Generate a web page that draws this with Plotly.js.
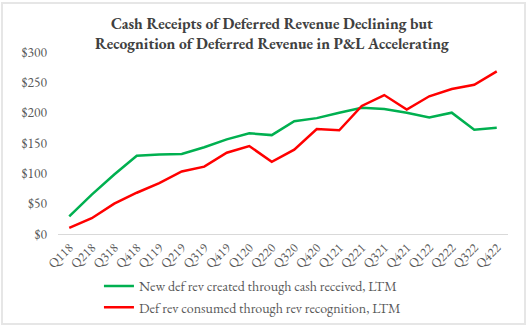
<!DOCTYPE html>
<html>
<head>
<meta charset="utf-8">
<script src="https://cdn.plot.ly/plotly-3.0.1.min.js"></script>
<style>
  html, body { margin: 0; padding: 0; background: #fff; }
  #wrap { position: relative; width: 529px; height: 328px; }
  #chart { position: absolute; left: 0; top: 0; width: 529px; height: 328px; }
  #frame { position: absolute; left: 1px; top: 2px; width: 521px; height: 319px; border: 2px solid #e6e6e6; pointer-events: none; }
</style>
</head>
<body>
<div id="wrap">
  <div id="chart"></div>
  <div id="frame"></div>
</div>
<script>
const quarters = ["Q118","Q218","Q318","Q418","Q119","Q219","Q319","Q419","Q120","Q220",
                  "Q320","Q420","Q121","Q221","Q321","Q421","Q122","Q222","Q322","Q422"];
const newDefRev = [29, 65, 98, 129, 131, 132, 143, 156, 166, 163,
                   186, 191, 200, 208, 206, 200, 192, 200, 172, 175];
const consumedDefRev = [10, 26, 50, 68, 84, 103, 111, 134, 145, 119,
                        139, 173, 171, 211, 229, 205, 227, 239, 246, 268];
const yTicks = [0, 50, 100, 150, 200, 250, 300];
const yTickText = yTicks.map(v => "$" + v);

const font = 'Garamond, "EB Garamond", "Liberation Serif", serif';

const traces = [
  { x: quarters, y: newDefRev, type: "scatter", mode: "lines",
    name: "New def rev created through cash received, LTM",
    line: { color: "#00b050", width: 2.5 } },
  { x: quarters, y: consumedDefRev, type: "scatter", mode: "lines",
    name: "Def rev consumed through rev recognition, LTM",
    line: { color: "#ff0000", width: 2.5 } }
];

const layout = {
  width: 529, height: 328,
  margin: { l: 58, r: 21, t: 52, b: 93.5, autoexpand: false },
  paper_bgcolor: "#ffffff", plot_bgcolor: "#ffffff",
  font: { family: font, color: "#595959", size: 13 },
  title: {
    text: "<b>Cash Receipts of Deferred Revenue Declining but<br>Recognition of Deferred Revenue in P&amp;L Accelerating</b>",
    font: { family: font, size: 15.5, color: "#404040" },
    x: 0.514, xanchor: "center", xref: "container",
    y: 0.912, yanchor: "middle", yref: "container"
  },
  xaxis: {
    type: "category", range: [-0.5, 19.5],
    showgrid: false, zeroline: false,
    showline: true, linecolor: "#d9d9d9", linewidth: 1,
    ticks: "", tickangle: -45, automargin: false,
    tickfont: { family: font, size: 13, color: "#595959" }
  },
  yaxis: {
    range: [0, 300], tickvals: yTicks, ticktext: yTickText,
    showgrid: false, zeroline: false, showline: false, ticks: "", automargin: false,
    ticklabelstandoff: 10,
    tickfont: { family: font, size: 13.5, color: "#595959" }
  },
  showlegend: true,
  legend: {
    orientation: "v", xref: "paper", yref: "paper",
    x: 0.091, xanchor: "left", y: -0.2, yanchor: "top",
    itemwidth: 30, tracegroupgap: 0,
    font: { family: font, size: 14, color: "#595959" },
    bgcolor: "rgba(0,0,0,0)"
  }
};

Plotly.newPlot("chart", traces, layout, { displayModeBar: false, staticPlot: true });
</script>
</body>
</html>
